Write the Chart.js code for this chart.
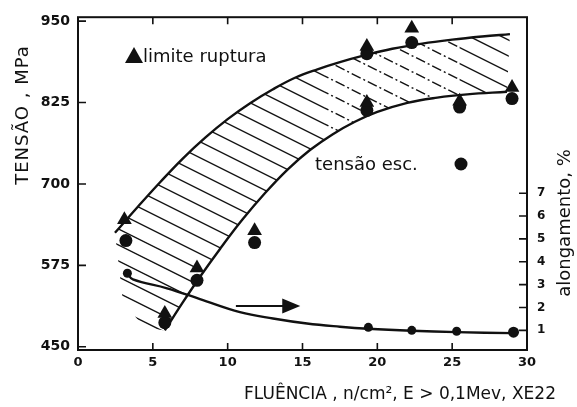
<!DOCTYPE html>
<html>
<head>
<meta charset="utf-8">
<script src="https://cdn.jsdelivr.net/npm/chart.js@4.4.0/dist/chart.umd.min.js"></script>
<style>
  html, body { margin: 0; padding: 0; background: #fff; }
  #wrap { width: 577px; height: 407px; }
</style>
</head>
<body>
<div id="wrap"><canvas id="tensaoChart" width="577" height="407"></canvas></div>
<script>
// axis ticks
const xTicks = [0, 5, 10, 15, 20, 25, 30];
const tensaoTicks = [450, 575, 700, 825, 950];
const alongTicks = [1, 2, 3, 4, 5, 6, 7];

// measured points: fluence (XE22 n/cm2) -> stress (MPa)
const fluenciaRup = [3.1, 5.8, 7.95, 11.8, 19.3, 19.3, 22.3, 25.5, 29.0];
const limiteRuptura = [645, 501, 571, 628, 911, 825, 939, 827, 848];
const fluenciaEsc = [3.2, 5.8, 7.95, 11.8, 19.3, 19.3, 22.3, 25.5, 29.0];
const tensaoEsc = [613, 487, 552, 610, 900, 813, 917, 818, 831];

// elongation (%), right axis
const fluenciaAlong = [3.3, 19.4, 22.3, 25.3, 29.1];
const alongamento = [3.5, 1.13, 1.0, 0.96, 0.92];

// hand-fitted curves
const curvaRupX = [2.47, 4.0, 5.5, 7.0, 8.5, 10.0, 11.5, 13.0, 14.5, 16.0, 17.5, 19.0, 21.0, 23.0, 25.0, 27.0, 28.86];
const curvaRupY = [625, 665, 703, 739, 771, 799.5, 824, 845, 863, 876, 887, 896.5, 907.5, 915.5, 921.5, 926.3, 930];
const curvaEscX = [5.8, 7.0, 8.2, 9.5, 11.0, 12.5, 14.0, 15.5, 17.0, 18.5, 20.0, 22.0, 24.0, 26.0, 28.66];
const curvaEscY = [475, 518, 559, 600.6, 645.6, 686, 722, 752, 776, 795.5, 810.5, 824.5, 832.5, 837.5, 841.5];
const curvaAlongX = [3.27, 3.67, 5.95, 8.15, 10.82, 13.03, 15.3, 17.5, 19.37, 22.3, 25.3, 29.05];
const curvaAlongY = [3.49, 3.23, 2.84, 2.37, 1.80, 1.52, 1.30, 1.16, 1.07, 0.98, 0.92, 0.88];

// left edge of the hatched band (below the start of the lower curve)
const bandLeftX = [3.0, 4.4];
const bandLeftY = [520, 480];

// arrow pointing to the elongation axis
const arrowX = [10.55, 14.85];
const arrowY = 2.07;

const INK = '#111';
const FONT = 'DejaVu Sans';

const pts = (xs, ys) => xs.map((x, i) => ({ x: x, y: ys[i] }));

// diagonal hatching between the two stress curves
const hatchBand = {
  id: 'hatchBand',
  beforeDatasetsDraw(chart) {
    const { ctx, chartArea: a, scales } = chart;
    const up = chart.getDatasetMeta(3).data;
    const lo = chart.getDatasetMeta(4).data;

    const bandPath = () => {
      ctx.beginPath();
      ctx.moveTo(up[0].x, up[0].y);
      for (let i = 1; i < up.length; i++) {
        const p = up[i - 1], q = up[i];
        ctx.bezierCurveTo(p.cp2x, p.cp2y, q.cp1x, q.cp1y, q.x, q.y);
      }
      ctx.lineTo(lo[lo.length - 1].x, lo[lo.length - 1].y);
      for (let i = lo.length - 1; i > 0; i--) {
        const p = lo[i], q = lo[i - 1];
        ctx.bezierCurveTo(p.cp1x, p.cp1y, q.cp2x, q.cp2y, q.x, q.y);
      }
      for (let i = bandLeftX.length - 1; i >= 0; i--) {
        ctx.lineTo(scales.x.getPixelForValue(bandLeftX[i]), scales.y.getPixelForValue(bandLeftY[i]));
      }
      ctx.closePath();
    };

    const k = 0.5, step = 16;
    const zones = [
      { from: 0, to: 16.5, dash: [] },
      { from: 16.5, to: 25.5, dash: [10, 3, 2, 3] },
      { from: 25.5, to: 30, dash: [] }
    ];
    zones.forEach(z => {
      const x0 = scales.x.getPixelForValue(z.from);
      const x1 = scales.x.getPixelForValue(z.to);
      ctx.save();
      bandPath();
      ctx.clip();
      ctx.beginPath();
      ctx.rect(x0, a.top, x1 - x0, a.height);
      ctx.clip();
      ctx.strokeStyle = INK;
      ctx.lineWidth = 1.4;
      ctx.setLineDash(z.dash);
      for (let c = a.top - k * a.width - step; c < a.bottom + step; c += step) {
        ctx.beginPath();
        ctx.moveTo(a.left, c);
        ctx.lineTo(a.right, c + k * a.width);
        ctx.stroke();
      }
      ctx.restore();
    });
  }
};

// frame, inward ticks, arrow, legends and axis titles
const decorations = {
  id: 'decorations',
  afterDraw(chart) {
    const { ctx, chartArea: a, scales } = chart;
    ctx.save();
    ctx.strokeStyle = INK;
    ctx.fillStyle = INK;
    ctx.lineWidth = 2;
    ctx.strokeRect(a.left, a.top, a.width, a.height);

    ctx.lineWidth = 1.6;
    ctx.beginPath();
    xTicks.forEach(v => {
      const px = scales.x.getPixelForValue(v);
      ctx.moveTo(px, a.bottom); ctx.lineTo(px, a.bottom - 7);
      ctx.moveTo(px, a.top); ctx.lineTo(px, a.top + 7);
    });
    tensaoTicks.forEach(v => {
      const py = scales.y.getPixelForValue(v);
      ctx.moveTo(a.left, py); ctx.lineTo(a.left + 8, py);
    });
    alongTicks.forEach(v => {
      const py = scales.y2.getPixelForValue(v);
      ctx.moveTo(a.right, py); ctx.lineTo(a.right - 8, py);
    });
    ctx.stroke();

    // arrow
    const ax0 = scales.x.getPixelForValue(arrowX[0]);
    const ax1 = scales.x.getPixelForValue(arrowX[1]);
    const ay = scales.y2.getPixelForValue(arrowY);
    ctx.lineWidth = 2;
    ctx.beginPath();
    ctx.moveTo(ax0, ay); ctx.lineTo(ax1 - 14, ay);
    ctx.stroke();
    ctx.beginPath();
    ctx.moveTo(ax1, ay); ctx.lineTo(ax1 - 18, ay - 7.5); ctx.lineTo(ax1 - 18, ay + 7.5);
    ctx.closePath();
    ctx.fill();

    // legend: limite ruptura
    ctx.beginPath();
    ctx.moveTo(134, 47); ctx.lineTo(143, 63); ctx.lineTo(125, 63);
    ctx.closePath();
    ctx.fill();
    ctx.font = '18px "' + FONT + '"';
    ctx.textAlign = 'left';
    ctx.textBaseline = 'alphabetic';
    ctx.fillText('limite ruptura', 143, 62);

    // legend: tensão esc.
    ctx.fillText('tensão esc.', 315, 170);
    ctx.beginPath();
    ctx.arc(461, 164, 6.5, 0, Math.PI * 2);
    ctx.fill();

    // axis titles
    ctx.font = '17px "' + FONT + '"';
    ctx.textAlign = 'center';
    ctx.fillText('FLUÊNCIA , n/cm², E > 0,1Mev, XE22', 400, 399);

    ctx.save();
    ctx.translate(28, 115);
    ctx.rotate(-Math.PI / 2);
    ctx.font = '18px "' + FONT + '"';
    ctx.letterSpacing = '1px';
    ctx.fillText('TENSÃO , MPa', 0, 0);
    ctx.restore();

    ctx.save();
    ctx.translate(570, 223);
    ctx.rotate(-Math.PI / 2);
    ctx.font = '18px "' + FONT + '"';
    ctx.fillText('alongamento, %', 0, 0);
    ctx.restore();

    ctx.restore();
  }
};

const ctx = document.getElementById('tensaoChart').getContext('2d');

const curveStyle = {
  type: 'line',
  showLine: true,
  borderColor: INK,
  borderWidth: 2.4,
  pointRadius: 0,
  fill: false,
  tension: 0.4,
  order: 2
};

const tensaoChart = new Chart(ctx, {
  type: 'scatter',
  data: {
    datasets: [
      {
        label: 'limite ruptura',
        data: pts(fluenciaRup, limiteRuptura),
        pointStyle: 'triangle',
        pointRadius: 8.5,
        backgroundColor: INK,
        borderWidth: 0,
        order: 0
      },
      {
        label: 'tensão esc.',
        data: pts(fluenciaEsc, tensaoEsc),
        pointStyle: 'circle',
        pointRadius: 6.5,
        backgroundColor: INK,
        borderWidth: 0,
        order: 0
      },
      {
        label: 'alongamento',
        data: pts(fluenciaAlong, alongamento),
        yAxisID: 'y2',
        pointStyle: 'circle',
        pointRadius: [4.5, 4.5, 4.5, 4.5, 5.5],
        backgroundColor: INK,
        borderWidth: 0,
        order: 0
      },
      Object.assign({ label: 'ajuste ruptura', data: pts(curvaRupX, curvaRupY) }, curveStyle),
      Object.assign({ label: 'ajuste esc.', data: pts(curvaEscX, curvaEscY) }, curveStyle),
      Object.assign({ label: 'ajuste alongamento', data: pts(curvaAlongX, curvaAlongY), yAxisID: 'y2' }, curveStyle)
    ]
  },
  options: {
    responsive: false,
    animation: false,
    layout: { padding: { top: 10, left: 0, right: 0, bottom: 0 } },
    plugins: {
      legend: { display: false },
      title: { display: false },
      tooltip: { enabled: false }
    },
    scales: {
      x: {
        type: 'linear',
        min: 0,
        max: 30,
        afterBuildTicks: s => { s.ticks = xTicks.map(v => ({ value: v })); },
        afterFit: s => { s.height = 57; },
        grid: { display: false, drawTicks: false },
        border: { display: false },
        ticks: { color: INK, padding: 5, font: { family: FONT, size: 13, weight: 'bold' } }
      },
      y: {
        type: 'linear',
        position: 'left',
        min: 445,
        max: 956,
        afterBuildTicks: s => { s.ticks = tensaoTicks.map(v => ({ value: v })); },
        afterFit: s => { s.width = 78; },
        grid: { display: false, drawTicks: false },
        border: { display: false },
        ticks: { color: INK, padding: 8, font: { family: FONT, size: 14, weight: 'bold' } }
      },
      y2: {
        type: 'linear',
        position: 'right',
        min: 0.14,
        max: 14.7,
        afterBuildTicks: s => { s.ticks = alongTicks.map(v => ({ value: v })); },
        afterFit: s => { s.width = 50; },
        grid: { display: false, drawTicks: false },
        border: { display: false },
        ticks: { color: INK, padding: 10, font: { family: FONT, size: 12, weight: 'bold' } }
      }
    }
  },
  plugins: [hatchBand, decorations]
});
</script>
</body>
</html>
